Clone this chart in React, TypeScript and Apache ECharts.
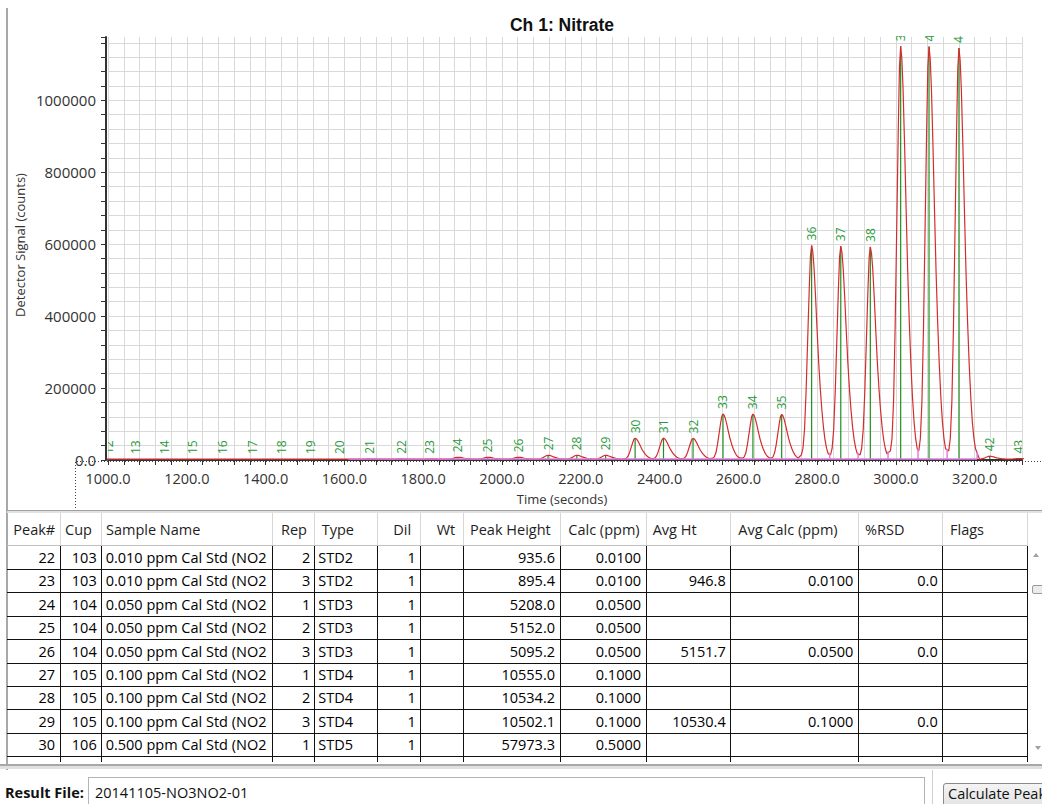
import React, { useEffect, useRef } from "react";
import * as echarts from "echarts";

// ---------------- chart data ----------------
const peakNumbers = [12, 13, 14, 15, 16, 17, 18, 19, 20, 21, 22, 23, 24, 25, 26, 27, 28, 29, 30, 31, 32, 33, 34, 35, 36, 37, 38, 39, 40, 41, 42, 43];
const peakTimes = [1000, 1071, 1143, 1215, 1290, 1366, 1441, 1513, 1588, 1665, 1744, 1817, 1888, 1964, 2041, 2117, 2190, 2263, 2338, 2410, 2485, 2561, 2637, 2710, 2786, 2860, 2935, 3012, 3084, 3160, 3238, 3312];
const peakHeights = [120, 180, 150, 160, 140, 170, 130, 160, 150, 1009.4, 935.6, 895.4, 5208.0, 5152.0, 5095.2, 10555.0, 10534.2, 10502.1, 57973.3, 58300, 57600, 125500, 125000, 124300, 594000, 592000, 590000, 1148000, 1147000, 1143000, 8000, 1500];
// peak shape (seconds from apex -> fraction of apex height)
const profileOffsets = [-26, -22, -18, -14, -10, -6, -3, 0, 3, 6, 10, 14, 18, 22, 26, 30, 34, 38, 42];
const profileValues = [0.02, 0.05, 0.14, 0.32, 0.56, 0.8, 0.95, 1.0, 0.97, 0.9, 0.76, 0.6, 0.45, 0.33, 0.23, 0.15, 0.09, 0.05, 0.025];
const baselineLevel = 2500;
const baselineStart = 1610;
const baselineEnd = 3206;
const valleyMarkTimes = [2832, 2904, 2980, 3056, 3130, 3206];
const valleyMarkHeights = [18000, 18000, 22000, 28000, 28000, 20000];
const xMajorTicks = [1000, 1200, 1400, 1600, 1800, 2000, 2200, 2400, 2600, 2800, 3000, 3200];
const yMajorTicks = [0, 200000, 400000, 600000, 800000, 1000000];

// ---------------- table data ----------------
const tableHeaders = ["Peak#", "Cup", "Sample Name", "Rep", "Type", "Dil", "Wt", "Peak Height", "Calc (ppm)", "Avg Ht", "Avg Calc (ppm)", "%RSD", "Flags"];
const rowPeak = ["22", "23", "24", "25", "26", "27", "28", "29", "30"];
const rowCup = ["103", "103", "104", "104", "104", "105", "105", "105", "106"];
const rowSample = ["0.010 ppm Cal Std (NO2", "0.010 ppm Cal Std (NO2", "0.050 ppm Cal Std (NO2", "0.050 ppm Cal Std (NO2", "0.050 ppm Cal Std (NO2", "0.100 ppm Cal Std (NO2", "0.100 ppm Cal Std (NO2", "0.100 ppm Cal Std (NO2", "0.500 ppm Cal Std (NO2"];
const rowRep = ["2", "3", "1", "2", "3", "1", "2", "3", "1"];
const rowType = ["STD2", "STD2", "STD3", "STD3", "STD3", "STD4", "STD4", "STD4", "STD5"];
const rowDil = ["1", "1", "1", "1", "1", "1", "1", "1", "1"];
const rowWt = ["", "", "", "", "", "", "", "", ""];
const rowPeakHeight = ["935.6", "895.4", "5208.0", "5152.0", "5095.2", "10555.0", "10534.2", "10502.1", "57973.3"];
const rowCalc = ["0.0100", "0.0100", "0.0500", "0.0500", "0.0500", "0.1000", "0.1000", "0.1000", "0.5000"];
const rowAvgHt = ["", "946.8", "", "", "5151.7", "", "", "10530.4", ""];
const rowAvgCalc = ["", "0.0100", "", "", "0.0500", "", "", "0.1000", ""];
const rowRsd = ["", "0.0", "", "", "0.0", "", "", "0.0", ""];
const rowFlags = ["", "", "", "", "", "", "", "", ""];
const resultFile = "20141105-NO3NO2-01";

// ---------------- layout ----------------
const FONT = '"Open Sans", sans-serif';
const colBounds = [7, 60, 101.7, 272.7, 314.3, 377.7, 420.7, 463.3, 560, 646, 730.7, 858.3, 942.7, 1027.3];
const colAlign = ["right", "right", "left", "right", "left", "right", "left", "right", "right", "right", "right", "right", "left"];
const headerX = [13.3, 65, 106, 281, 321.7, 393.3, 436.7, 470, 568.3, 652.7, 738.3, 865, 950];
const HEADER_TOP = 513;
const BODY_TOP = 546;
const ROW_H = 23.4;
const BODY_BOTTOM = 762;

function buildTrace(): number[][] {
  const pts: number[][] = [];
  for (let i = 0; i < peakTimes.length; i++) {
    for (let k = 0; k < profileOffsets.length; k++) {
      pts.push([peakTimes[i] + profileOffsets[k], baselineLevel + peakHeights[i] * profileValues[k]]);
    }
  }
  return pts;
}

function makeOption(): any {
  const axisColor = "#333";
  const gridColor = "#d9d9d9";
  return {
    animation: false,
    grid: { left: 108, top: 37, width: 914, height: 423 },
    xAxis: {
      type: "value",
      min: 1000,
      max: 3320,
      interval: 40,
      axisLine: { onZero: false, lineStyle: { color: axisColor, width: 2 } },
      axisTick: { length: 5, lineStyle: { color: axisColor } },
      axisLabel: {
        formatter: (v: number) => (xMajorTicks.indexOf(v) >= 0 ? v.toFixed(1) : ""),
        fontFamily: FONT,
        fontSize: 14.5,
        color: "#333",
        margin: 11,
      },
      splitLine: { show: true, lineStyle: { color: gridColor, width: 1 } },
    },
    yAxis: {
      type: "value",
      min: 0,
      max: 1176000,
      interval: 40000,
      offset: 2,
      axisLine: { show: true, lineStyle: { color: axisColor, width: 2 } },
      axisTick: { show: true, length: 5, lineStyle: { color: axisColor } },
      axisLabel: {
        formatter: (v: number) => (yMajorTicks.indexOf(v) >= 0 ? (v === 0 ? "0.0" : String(v)) : ""),
        fontFamily: FONT,
        fontSize: 15,
        color: "#333",
        margin: 10,
      },
      splitLine: { show: true, showMaxLine: false, lineStyle: { color: gridColor, width: 1 } },
    },
    graphic: [
      {
        type: "text",
        x: 562,
        y: 25,
        style: { text: "Ch 1: Nitrate", fontFamily: '"Liberation Sans", Arial, sans-serif', fontWeight: "bold", fontSize: 17.5, fill: "#111", align: "center", verticalAlign: "middle", textAlign: "center", textVerticalAlign: "middle" },
      },
      {
        type: "text",
        x: 20,
        y: 245,
        rotation: Math.PI / 2,
        style: { text: "Detector Signal (counts)", fontFamily: FONT, fontSize: 13, fill: "#333", align: "center", verticalAlign: "middle", textAlign: "center", textVerticalAlign: "middle" },
      },
      {
        type: "text",
        x: 562,
        y: 499,
        style: { text: "Time (seconds)", fontFamily: FONT, fontSize: 13, fill: "#333", align: "center", verticalAlign: "middle", textAlign: "center", textVerticalAlign: "middle" },
      },
      {
        type: "polyline",
        z: -1,
        shape: { points: [[75.5, 511], [75.5, 461.5], [1042, 461.5]] },
        style: { stroke: "#444", lineWidth: 1, lineDash: [1, 2], fill: "none" },
      },
    ],
    series: [
      {
        type: "custom",
        z: 2,
        clip: false,
        data: peakTimes.map((t, i) => [t, peakHeights[i], peakNumbers[i]]),
        renderItem: (params: any, api: any) => {
          const t = api.value(0);
          const h = api.value(1);
          const n = api.value(2);
          const base = api.coord([t, baselineLevel]);
          const top = api.coord([t, baselineLevel + h]);
          const cs = params.coordSys;
          return {
            type: "group",
            clipPath: { type: "rect", shape: { x: cs.x, y: cs.y - 1, width: cs.width, height: cs.height + 1 } },
            children: [
              { type: "line", shape: { x1: base[0], y1: base[1], x2: top[0], y2: top[1] }, style: { stroke: "#1f8f1f", lineWidth: 1.2 } },
              {
                type: "text",
                x: top[0],
                y: top[1] - 5,
                rotation: Math.PI / 2,
                style: { text: String(n), fontFamily: FONT, fontSize: 12, fill: "#2a9a3a", align: "left", verticalAlign: "middle", textAlign: "left", textVerticalAlign: "middle" },
              },
            ],
          };
        },
      },
      {
        type: "line",
        z: 3,
        symbol: "none",
        data: buildTrace(),
        lineStyle: { color: "#d42c2c", width: 1.2 },
        silent: true,
      },
      {
        type: "line",
        z: 4,
        symbol: "none",
        data: [[baselineStart, baselineLevel], [baselineEnd, baselineLevel]],
        lineStyle: { color: "#e27fe2", width: 1.5 },
        silent: true,
      },
      {
        type: "custom",
        z: 4,
        data: valleyMarkTimes.map((t, i) => [t, valleyMarkHeights[i]]),
        renderItem: (params: any, api: any) => {
          const a = api.coord([api.value(0), baselineLevel]);
          const b = api.coord([api.value(0), baselineLevel + api.value(1)]);
          return { type: "line", shape: { x1: a[0], y1: a[1], x2: b[0], y2: b[1] }, style: { stroke: "#e27fe2", lineWidth: 1.5 } };
        },
      },
    ],
  };
}

function rowValues(i: number): string[] {
  return [rowPeak[i], rowCup[i], rowSample[i], rowRep[i], rowType[i], rowDil[i], rowWt[i], rowPeakHeight[i], rowCalc[i], rowAvgHt[i], rowAvgCalc[i], rowRsd[i], rowFlags[i]];
}

export default function App() {
  const ref = useRef<HTMLDivElement>(null);
  useEffect(() => {
    const chart = echarts.init(ref.current as HTMLDivElement, null, { renderer: "svg" });
    chart.setOption(makeOption());
    return () => chart.dispose();
  }, []);

  const abs = (s: any) => ({ position: "absolute", ...s } as React.CSSProperties);
  const els: React.ReactNode[] = [];

  // header texts and separators
  tableHeaders.forEach((h, c) => {
    els.push(
      <div key={"h" + c} style={abs({ left: headerX[c], top: HEADER_TOP, height: BODY_TOP - HEADER_TOP, lineHeight: BODY_TOP - HEADER_TOP + "px", fontSize: 14.5, color: "#1e1e1e", whiteSpace: "nowrap" })}>{h}</div>
    );
  });
  for (let c = 1; c < colBounds.length; c++) {
    els.push(<div key={"hs" + c} style={abs({ left: colBounds[c] - 0.5, top: HEADER_TOP, width: 1, height: BODY_TOP - HEADER_TOP, background: "#d6d6d6" })} />);
  }
  els.push(<div key="hb" style={abs({ left: 7, top: BODY_TOP - 1, width: colBounds[colBounds.length - 1] - 7, height: 1, background: "#c0c0c0" })} />);

  // body cells
  rowPeak.forEach((_, r) => {
    const vals = rowValues(r);
    vals.forEach((v, c) => {
      const left = colBounds[c];
      const w = colBounds[c + 1] - colBounds[c];
      const right = colAlign[c] === "right";
      els.push(
        <div
          key={"c" + r + "_" + c}
          style={abs({
            left,
            top: BODY_TOP + r * ROW_H,
            width: w,
            height: ROW_H,
            lineHeight: ROW_H + "px",
            fontSize: 14.5,
            color: "#000",
            whiteSpace: "nowrap",
            overflow: "hidden",
            boxSizing: "border-box",
            textAlign: right ? "right" : "left",
            paddingRight: right ? (c === 3 ? 4 : 5) : 0,
            paddingLeft: right ? 0 : 4,
          })}
        >
          {v}
        </div>
      );
    });
  });
  // body grid lines
  for (let c = 1; c < colBounds.length; c++) {
    els.push(<div key={"bv" + c} style={abs({ left: colBounds[c] - 0.5, top: BODY_TOP, width: 1.2, height: BODY_BOTTOM - BODY_TOP, background: "#111" })} />);
  }
  for (let k = 1; k <= rowPeak.length; k++) {
    els.push(<div key={"bh" + k} style={abs({ left: 7, top: BODY_TOP + k * ROW_H - 0.5, width: colBounds[colBounds.length - 1] - 7, height: 1.2, background: "#111" })} />);
  }

  return (
    <div style={abs({ left: 0, top: 0, width: 1042, height: 804, background: "#fff", overflow: "hidden", fontFamily: FONT, position: "fixed" })}>
      <div ref={ref} style={abs({ left: 0, top: 0, width: 1042, height: 510 })} />
      {/* frame */}
      <div style={abs({ left: 6, top: 8, width: 2, height: 762, background: "#a8a8a8" })} />
      <div style={abs({ left: 7, top: 510, width: 1035, height: 1, background: "#a0a0a0" })} />
      <div style={abs({ left: 7, top: 511, width: 1035, height: 2, background: "#e2e2e2" })} />
      {els}
      {/* scrollbar */}
      <div style={abs({ left: 1033, top: 553, width: 0, height: 0, borderLeft: "3px solid transparent", borderRight: "3px solid transparent", borderBottom: "4px solid #a0a0a0" })} />
      <div style={abs({ left: 1031.5, top: 585, width: 14, height: 7, border: "1px solid #9a9a9a", borderRadius: 2, background: "#ececec" })} />
      <div style={abs({ left: 1035, top: 746, width: 0, height: 0, borderLeft: "3px solid transparent", borderRight: "3px solid transparent", borderTop: "4px solid #a0a0a0" })} />
      {/* table bottom border */}
      <div style={abs({ left: 0, top: 764, width: 1042, height: 1.5, background: "#a8a8a8" })} />
      <div style={abs({ left: 0, top: 766, width: 1042, height: 3, background: "#e0e0e0" })} />
      {/* bottom bar */}
      <div style={abs({ left: 5, top: 780, height: 26, lineHeight: "26px", fontSize: 14.5, fontWeight: 700, color: "#111", whiteSpace: "nowrap" })}>Result File:</div>
      <div style={abs({ left: 88, top: 777, width: 837, height: 40, border: "1px solid #b4b4b4", background: "#fff", boxSizing: "border-box" })} />
      <div style={abs({ left: 95, top: 780, height: 26, lineHeight: "26px", fontSize: 14.5, color: "#111", whiteSpace: "nowrap" })}>{resultFile}</div>
      <div style={abs({ left: 932, top: 770, width: 1, height: 40, background: "#d0d0d0" })} />
      <div style={abs({ left: 942.5, top: 782.5, width: 120, height: 30, border: "1px solid #8a8a8a", borderRadius: 3, background: "linear-gradient(#f4f4f4, #dedede)", boxSizing: "border-box" })} />
      <div style={abs({ left: 948, top: 781, height: 26, lineHeight: "26px", fontSize: 14.5, color: "#111", whiteSpace: "nowrap" })}>Calculate Peak</div>
    </div>
  );
}
